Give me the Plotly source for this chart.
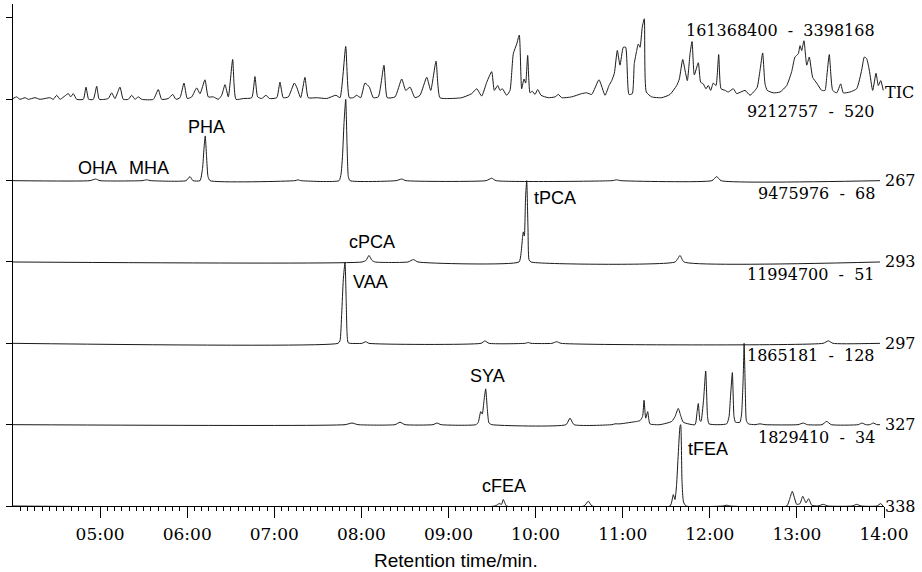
import plotly.graph_objects as go

# ---------------- data (retention time in min, intensity in % of each channel's full scale) ----------------
TIC_TIME = [4.000, 4.042, 4.080, 4.138, 4.176, 4.253, 4.310, 4.425, 4.463, 4.502, 4.540, 4.635, 4.662, 4.692,
            4.731, 4.807, 4.838, 4.869, 4.922, 4.961, 4.991, 5.094, 5.133, 5.171, 5.228, 5.266, 5.324, 5.363,
            5.401, 5.439, 5.478, 5.611, 5.668, 5.707, 5.783, 5.834, 5.871, 5.917, 5.963, 6.001, 6.052, 6.109,
            6.147, 6.204, 6.242, 6.300, 6.357, 6.396, 6.434, 6.472, 6.522, 6.560, 6.644, 6.741, 6.778, 6.809,
            6.855, 6.905, 6.943, 7.028, 7.065, 7.103, 7.161, 7.230, 7.257, 7.303, 7.352, 7.390, 7.487, 7.602,
            7.708, 7.754, 7.820, 7.861, 7.907, 7.946, 7.992, 8.041, 8.091, 8.137, 8.194, 8.259, 8.297, 8.386,
            8.463, 8.509, 8.558, 8.615, 8.673, 8.750, 8.796, 8.857, 8.902, 9.017, 9.152, 9.266, 9.324, 9.381,
            9.439, 9.496, 9.526, 9.565, 9.591, 9.618, 9.668, 9.706, 9.744, 9.783, 9.813, 9.840, 9.867, 9.886,
            9.909, 9.936, 9.962, 9.993, 10.024, 10.062, 10.146, 10.223, 10.261, 10.300, 10.414, 10.529, 10.587,
            10.644, 10.728, 10.797, 10.843, 10.874, 10.904, 10.938, 10.969, 11.007, 11.034, 11.072, 11.110,
            11.133, 11.161, 11.179, 11.199, 11.225, 11.248, 11.271, 11.333, 11.448, 11.543, 11.620, 11.650,
            11.689, 11.715, 11.742, 11.773, 11.796, 11.822, 11.868, 11.895, 11.925, 11.956, 11.983, 12.010,
            12.040, 12.071, 12.102, 12.129, 12.175, 12.212, 12.270, 12.309, 12.404, 12.462, 12.519, 12.545,
            12.577, 12.607, 12.634, 12.660, 12.729, 12.806, 12.883, 12.940, 12.978, 13.016, 13.036, 13.055,
            13.081, 13.113, 13.142, 13.181, 13.227, 13.285, 13.323, 13.342, 13.372, 13.411, 13.457, 13.503,
            13.533, 13.610, 13.686, 13.744, 13.774, 13.801, 13.831, 13.870, 13.908, 13.935, 13.962, 13.992]
TIC_INT = [1, 3, 0, 2, 0, 2, 0, 2, 0, 5, 0, 7, 3, 7,
           0, 0, 15, 0, 0, 16, 0, 1, 8, 1, 15, 0, 0, 5,
           0, 3, 0, 0, 12, 0, 1, 6, 0, 2, 20, 1, 3, 14,
           7, 24, 3, 3, 0, 5, 18, 3, 49, 0, 1, 2, 28, 3,
           1, 5, 1, 2, 21, 2, 3, 20, 15, 2, 27, 2, 2, 1,
           5, 2, 65, 2, 2, 5, 2, 20, 15, 2, 3, 42, 2, 3,
           25, 11, 15, 2, 5, 27, 11, 47, 2, 1, 2, 7, 13, 4,
           21, 34, 11, 17, 11, 13, 5, 11, 56, 68, 79, 13, 25, 20,
           54, 8, 10, 6, 12, 5, 2, 3, 6, 2, 3, 7, 8,
           6, 24, 5, 17, 23, 32, 60, 42, 64, 64, 6, 7,
           44, 60, 68, 64, 89, 99, 9, 3, 2, 6, 17, 25,
           49, 36, 23, 56, 71, 30, 45, 21, 19, 13, 17, 11,
           20, 17, 55, 13, 11, 9, 13, 7, 11, 5, 11, 15,
           36, 57, 19, 11, 8, 9, 17, 34, 52, 56, 66, 60,
           72, 42, 52, 27, 20, 11, 11, 27, 55, 11, 8, 19,
           8, 9, 13, 36, 52, 50, 36, 11, 32, 17, 23, 11]

M267_TIME = [4.000, 4.884, 4.949, 4.999, 5.481, 5.535, 5.584, 5.986, 6.032, 6.066, 6.147, 6.176, 6.193,
             6.207, 6.222, 6.239, 6.262, 7.238, 7.272, 7.307, 7.743, 7.766, 7.783, 7.800, 7.820, 7.835,
             7.850, 7.869, 8.397, 8.463, 8.512, 9.431, 9.496, 9.545, 10.877, 10.931, 10.980, 12.025,
             12.079, 12.129, 13.954]
M267_INT = [0, 0, 2, 0, 0, 1, 0, 0, 5, 0, 0, 15, 40,
            55, 30, 5, 0, 0, 1, 0, 0, 8, 30, 70, 100, 45,
            5, 0, 0, 2, 0, 0, 3, 0, 0, 1, 0, 0,
            5, 0, 0]

M293_TIME = [4.000, 8.007, 8.053, 8.087, 8.121, 8.156, 8.535, 8.596, 8.650, 9.809, 9.832, 9.850, 9.859,
             9.871, 9.885, 9.898, 9.913, 9.924, 9.947, 11.601, 11.658, 11.704, 13.954]
M293_INT = [0, 0, 2, 8, 2, 0, 0, 3, 0, 0, 10, 30, 37,
            32, 80, 100, 40, 3, 0, 0, 8, 0, 0]

M297_TIME = [4.000, 7.731, 7.754, 7.774, 7.792, 7.812, 7.824, 7.835, 7.846, 7.869, 8.007, 8.049, 8.087,
             9.373, 9.419, 9.465, 9.878, 9.916, 9.947, 10.188, 10.242, 10.292, 13.300, 13.361, 13.415, 13.954]
M297_INT = [0, 0, 3, 37, 78, 100, 58, 13, 1, 0, 0, 2, 0,
            0, 3, 0, 0, 1, 0, 0, 2, 0, 0, 3, 0, 0]

M327_TIME = [4.000, 7.812, 7.892, 7.961, 8.386, 8.443, 8.501, 8.822, 8.868, 8.914, 9.316, 9.342, 9.370,
             9.388, 9.408, 9.427, 9.445, 9.465, 9.499, 10.349, 10.395, 10.441, 10.877, 10.912, 10.969,
             11.161, 11.199, 11.228, 11.245, 11.264, 11.287, 11.313, 11.428, 11.563, 11.601, 11.638,
             11.669, 11.696, 11.830, 11.853, 11.868, 11.887, 11.899, 11.928, 11.953, 11.974, 11.991,
             12.194, 12.221, 12.238, 12.259, 12.278, 12.295, 12.346, 12.365, 12.384, 12.394, 12.408,
             12.420, 12.442, 12.519, 12.576, 12.634, 13.013, 13.074, 13.120, 13.288, 13.342, 13.394,
             13.704, 13.747, 13.791, 13.837, 13.876, 13.920, 13.954]
M327_INT = [0, 0, 2, 0, 0, 3, 0, 0, 2, 0, 0, 3, 16,
            13, 30, 44, 20, 2, 0, 0, 8, 0, 0, 1, 1,
            4, 5, 10, 30, 8, 16, 1, 0, 4, 10, 20,
            10, 3, 0, 15, 26, 5, 4, 30, 66, 10, 1,
            1, 10, 35, 64, 10, 3, 3, 13, 60, 100, 40,
            5, 1, 0, 1, 0, 0, 2, 0, 0, 4, 0,
            0, 2, 0, 0, 2, 0, 0]

M338_TIME = [4.000, 9.534, 9.583, 9.609, 9.629, 9.668, 10.556, 10.605, 10.648, 11.543, 11.581, 11.600,
             11.618, 11.638, 11.658, 11.666, 11.681, 11.698, 11.727, 12.152, 12.194, 12.232, 12.883,
             12.915, 12.947, 12.998, 13.036, 13.067, 13.104, 13.135, 13.170, 13.242, 13.303, 13.357,
             13.633, 13.687, 13.736, 13.920, 13.962, 13.989]
M338_INT = [0, 0, 3, 2, 8, 0, 0, 6, 0, 0, 14, 8,
            25, 64, 98, 100, 30, 5, 0, 0, 1, 0, 0,
            8, 18, 2, 3, 12, 4, 9, 1, 0, 2, 0,
            0, 2, 0, 0, 3, 0]

CHANNELS = ["TIC", "267", "293", "297", "327", "338"]
RANGES = ["161368400 - 3398168", "9212757 - 520", "9475976 - 68",
          "11994700 - 51", "1865181 - 128", "1829410 - 34"]
SERIES = [(TIC_TIME, TIC_INT), (M267_TIME, M267_INT), (M293_TIME, M293_INT),
          (M297_TIME, M297_INT), (M327_TIME, M327_INT), (M338_TIME, M338_INT)]

PEAK_NAMES = ["OHA", "MHA", "PHA", "cPCA", "VAA", "tPCA", "SYA", "cFEA", "tFEA"]
PEAK_TIMES = [4.970, 5.567, 6.222, 8.122, 8.099, 10.228, 9.448, 9.637, 11.979]
PEAK_LEVELS = [4.150, 4.150, 4.660, 3.240, 2.754, 3.787, 1.598, 0.240, 0.701]

TICK_VALS = [5, 6, 7, 8, 9, 10, 11, 12, 13, 14]
TICK_TEXT = ["05:00", "06:00", "07:00", "08:00", "09:00", "10:00", "11:00", "12:00", "13:00", "14:00"]

# ---------------- layout / styling ----------------
TOP = 6.172          # top of the stacked scale (in channel bands)
LINE = "#1a1a1a"
SERIF = "DejaVu Serif"
SANS = "Liberation Sans, Arial, sans-serif"
NB = "\u00a0"

fig = go.Figure()
# invisible trace that anchors the main (visible) axes
fig.add_trace(go.Scatter(x=[4, 14], y=[0, 0], mode="lines", line=dict(width=0),
                         hoverinfo="skip", showlegend=False))

layout_axes = {}
n = len(CHANNELS)
for i, (t, v) in enumerate(SERIES):
    level = n - 1 - i           # TIC on top, 338 at the bottom
    ax = i + 2
    fig.add_trace(go.Scatter(x=t, y=v, mode="lines", yaxis=f"y{ax}",
                             line=dict(color=LINE, width=1, shape="spline", smoothing=0.5),
                             hoverinfo="skip", showlegend=False))
    layout_axes[f"yaxis{ax}"] = dict(overlaying="y", range=[-level * 100, (TOP - level) * 100],
                                     visible=False, fixedrange=True)

minor_vals = [4 + k / 12 for k in range(1, 121) if k % 12 != 0]

fig.update_layout(
    width=922, height=572,
    margin=dict(l=13, r=38, t=4, b=66),
    paper_bgcolor="white", plot_bgcolor="white",
    showlegend=False,
    xaxis=dict(range=[4, 14], tickmode="array", tickvals=TICK_VALS, ticktext=TICK_TEXT,
               ticks="outside", ticklen=11, tickwidth=1, tickcolor="black",
               showline=True, linecolor="black", linewidth=1,
               showgrid=False, zeroline=False, ticklabelstandoff=2,
               tickfont=dict(family=SERIF, size=17, color="black"),
               minor=dict(tickmode="array", tickvals=minor_vals, ticks="outside", ticklen=4,
                          tickwidth=1, tickcolor="black", showgrid=False)),
    yaxis=dict(range=[0, TOP], tickmode="array", tickvals=list(range(n + 1)),
               ticks="outside", ticklen=6, tickcolor="black", showticklabels=False,
               showline=True, linecolor="black", linewidth=1, showgrid=False, zeroline=False),
    **layout_axes,
)

annotations = []
for i, ch in enumerate(CHANNELS):
    level = n - 1 - i
    off = 0.09 if ch == "TIC" else 0.0
    annotations.append(dict(x=1.0, xref="paper", y=level + off, yref="y", text=ch,
                            xanchor="left", yanchor="middle", showarrow=False, xshift=-1,
                            font=dict(family=SERIF, size=16, color="black")))
    annotations.append(dict(x=13.92, xref="x", y=level + 0.845, yref="y",
                            text=RANGES[i].replace(" - ", NB * 2 + "-" + NB * 2),
                            xanchor="right", yanchor="middle", showarrow=False,
                            font=dict(family=SERIF, size=16, color="black")))
for name, tt, lv in zip(PEAK_NAMES, PEAK_TIMES, PEAK_LEVELS):
    annotations.append(dict(x=tt, xref="x", y=lv, yref="y", text=name, showarrow=False,
                            xanchor="center", yanchor="middle",
                            font=dict(family=SANS, size=18, color="black")))
annotations.append(dict(x=0.509, xref="paper", y=-0.1076, yref="paper", text="Retention time/min.",
                        showarrow=False, xanchor="center", yanchor="middle",
                        font=dict(family=SANS, size=19, color="black")))
fig.update_layout(annotations=annotations)

fig.write_html("out.html", config={"displayModeBar": False},
               post_script="document.body.style.margin='0';document.body.style.overflow='hidden';")
